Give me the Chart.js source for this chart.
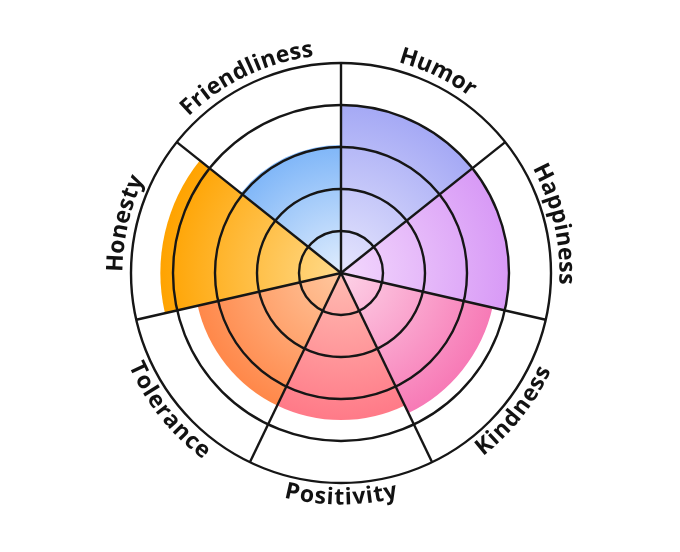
<!DOCTYPE html>
<html>
<head>
<meta charset="utf-8">
<script src="https://cdn.jsdelivr.net/npm/chart.js@4/dist/chart.umd.min.js"></script>
<style>
  html, body { margin: 0; padding: 0; background: #fff; }
  #wrap { width: 680px; height: 552px; }
</style>
</head>
<body>
<div id="wrap"><canvas id="chart"></canvas></div>
<script>
// values (rings go 1..5)
const labels = ['Humor', 'Happiness', 'Kindness', 'Positivity', 'Tolerance', 'Honesty', 'Friendliness'];
const scores = [4, 4, 3.7, 3.5, 3.5, 4.3, 3.05];
const scaleMax = 5;

// gradient stops per slice: [centre, edge]
const innerColors = ['#e6e6fd', '#f3d8fd', '#fdd2e7', '#ffbcb2', '#ffc79e', '#ffda8a', '#e0edfd'];
const outerColors = ['#a5a9f5', '#d89af6', '#f77ab6', '#ff7a88', '#ff884a', '#ffa300', '#7fb6f8'];

const LINE = '#161616';

function sliceFill(ctx) {
    const chart = ctx.chart;
    const r = chart.scales.r;
    const i = ctx.dataIndex;
    if (!r || !chart.chartArea || i === undefined) return outerColors[i] || '#ccc';
    const rad = r.getDistanceFromCenterForValue(scores[i]);
    const g = chart.ctx.createRadialGradient(r.xCenter, r.yCenter, 0, r.xCenter, r.yCenter, Math.max(rad, 1));
    g.addColorStop(0, innerColors[i]);
    g.addColorStop(1, outerColors[i]);
    return g;
}

// labels bent round the outer ring
const arcLabels = {
    id: 'arcLabels',
    afterDraw(chart) {
        const r = chart.scales.r;
        const c = chart.ctx;
        const radius = r.drawingArea + 15;
        const spacing = 0.6;
        c.save();
        c.font = 'bold 23px "Open Sans", sans-serif';
        c.fillStyle = '#121212';
        c.textAlign = 'center';
        c.textBaseline = 'middle';
        labels.forEach((text, i) => {
            const step = 2 * Math.PI / labels.length;
            const mid = (i + 0.5) * step; // clockwise from top
            const widths = [...text].map(ch => c.measureText(ch).width + spacing);
            const total = widths.reduce((a, b) => a + b, 0);
            const span = total / radius;
            const flip = mid > Math.PI / 2 && mid < 3 * Math.PI / 2;
            let a = flip ? mid + span / 2 : mid - span / 2;
            [...text].forEach((ch, k) => {
                const half = widths[k] / 2 / radius;
                a += flip ? -half : half;
                const x = r.xCenter + radius * Math.sin(a);
                const y = r.yCenter - radius * Math.cos(a);
                c.save();
                c.translate(x, y);
                c.rotate(flip ? a + Math.PI : a);
                c.fillText(ch, 0, 0);
                c.restore();
                a += flip ? -half : half;
            });
        });
        c.restore();
    }
};

new Chart(document.getElementById('chart'), {
    type: 'polarArea',
    data: {
        labels,
        datasets: [{
            data: scores,
            backgroundColor: sliceFill,
            borderWidth: 0,
        }],
    },
    options: {
        responsive: true,
        maintainAspectRatio: false,
        animation: false,
        layout: { padding: { top: 63, bottom: 69, left: 131, right: 129 } },
        plugins: {
            legend: { display: false },
            tooltip: { enabled: false },
        },
        scales: {
            r: {
                min: 0,
                max: scaleMax,
                ticks: { display: false, stepSize: 1 },
                grid: { color: LINE, lineWidth: 2.4, z: 1 },
                angleLines: { display: true, color: LINE, lineWidth: 2.4 },
                pointLabels: { display: false },
            },
        },
    },
    plugins: [arcLabels],
});
</script>
</body>
</html>
